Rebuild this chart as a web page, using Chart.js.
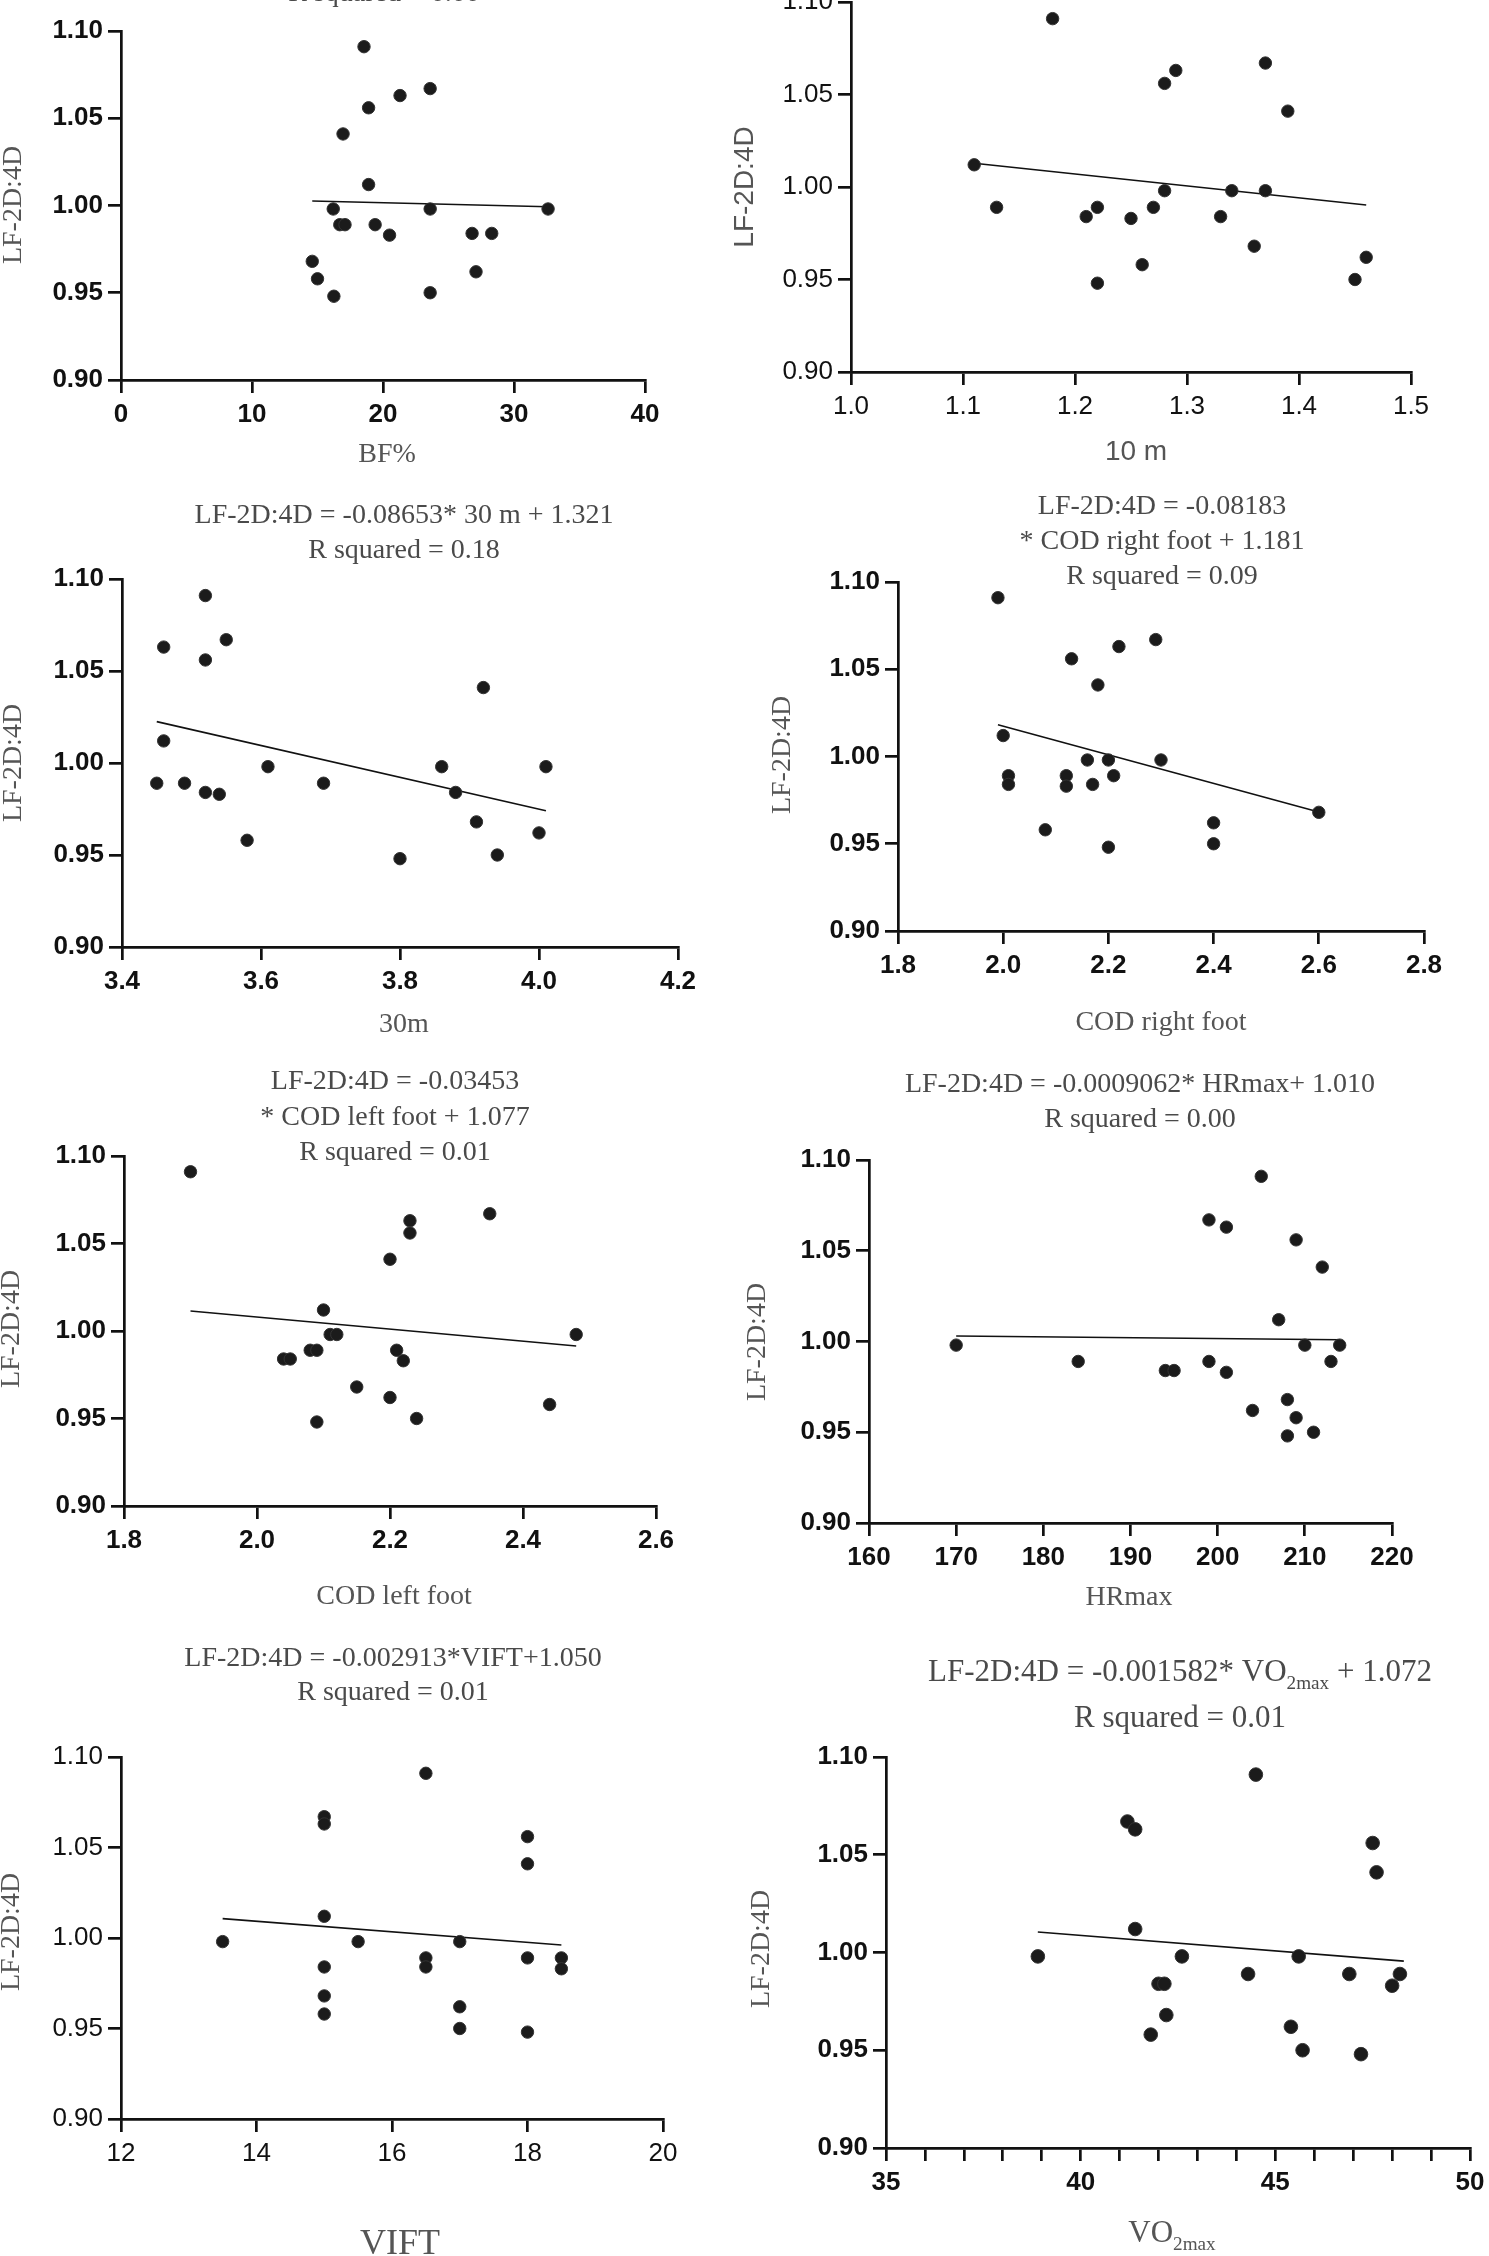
<!DOCTYPE html>
<html>
<head>
<meta charset="utf-8">
<script src="https://cdn.jsdelivr.net/npm/chart.js@4.4.1/dist/chart.umd.min.js"></script>
<style>
  html, body { margin: 0; padding: 0; background: #fff; }
  body { width: 1489px; height: 2256px; position: relative; overflow: hidden; }
</style>
</head>
<body>
<script>
// LF-2D:4D ratio, same 20 subjects in the same order for every panel
const ratio = [1.091, 1.067, 1.063, 1.056, 1.041, 1.012, 0.998, 0.998, 0.998, 0.989,
               0.989, 0.989, 0.984, 0.984, 0.983, 0.968, 0.962, 0.958, 0.950, 0.948];

// x values per panel
const bfPct    = [18.55, 23.6, 21.3, 18.9, 16.95, 18.9, 16.2, 23.6, 32.6, 16.7, 17.1, 19.4, 26.8, 28.3, 20.5, 14.6, 27.1, 15.0, 23.6, 16.25];
const tenM     = [1.18, 1.37, 1.29, 1.28, 1.39, 1.11, 1.28, 1.34, 1.37, 1.13, 1.22, 1.27, 1.21, 1.33, 1.25, 1.36, 1.46, 1.26, 1.45, 1.22];
const thirtyM  = [3.52, 3.55, 3.46, 3.52, 3.92, 3.46, 3.61, 3.86, 4.01, 3.45, 3.49, 3.69, 3.52, 3.88, 3.54, 3.91, 4.00, 3.58, 3.94, 3.80];
const codRight = [1.99, 2.29, 2.22, 2.13, 2.18, 2.00, 2.16, 2.20, 2.30, 2.01, 2.12, 2.21, 2.01, 2.17, 2.12, 2.60, 2.40, 2.08, 2.40, 2.20];
const codLeft  = [1.90, 2.35, 2.23, 2.23, 2.20, 2.10, 2.11, 2.12, 2.48, 2.08, 2.09, 2.21, 2.04, 2.05, 2.22, 2.15, 2.20, 2.44, 2.24, 2.09];
const hrMax    = [205, 199, 201, 209, 212, 207, 170, 210, 214, 184, 199, 213, 194, 195, 201, 208, 204, 209, 211, 208];
const vift     = [16.5, 15, 15, 18, 18, 15, 13.5, 15.5, 17, 16.5, 18, 18.5, 15, 16.5, 18.5, 15, 17, 15, 17, 18];
const vo2max   = [44.5, 41.2, 41.4, 47.5, 47.6, 41.4, 38.9, 42.6, 45.6, 44.3, 46.9, 48.2, 42.0, 42.15, 48.0, 42.2, 45.4, 41.8, 45.7, 47.2];

// regression line end points
const bfFit    = [[14.6, 1.0026], [32.6, 0.9993]];
const tenFit   = [[1.11, 1.0128], [1.46, 0.9903]];
const thirtyFit= [[3.45, 1.0225], [4.01, 0.9740]];
const codRFit  = [[1.99, 1.0182], [2.60, 0.9682]];
const codLFit  = [[1.90, 1.0114], [2.48, 0.9914]];
const hrFit    = [[170, 1.0030], [214, 1.0010]];
const viftFit  = [[13.5, 1.0107], [18.5, 0.9961]];
const vo2Fit   = [[38.9, 1.0105], [48.3, 0.9956]];

// tick values
const ratioTicks  = [0.90, 0.95, 1.00, 1.05, 1.10];
const bfTicks     = [0, 10, 20, 30, 40];
const tenTicks    = [1.0, 1.1, 1.2, 1.3, 1.4, 1.5];
const thirtyTicks = [3.4, 3.6, 3.8, 4.0, 4.2];
const codRTicks   = [1.8, 2.0, 2.2, 2.4, 2.6, 2.8];
const codLTicks   = [1.8, 2.0, 2.2, 2.4, 2.6];
const hrTicks     = [160, 170, 180, 190, 200, 210, 220];
const viftTicks   = [12, 14, 16, 18, 20];
const vo2Ticks    = [35, 36, 37, 38, 39, 40, 41, 42, 43, 44, 45, 46, 47, 48, 49, 50];

const SERIF = "'Liberation Serif', 'Times New Roman', serif";
const SANS = "'Liberation Sans', Arial, sans-serif";
const PADL = 150, PADT = 150, PADR = 45, PADB = 140;

// draws titles / axis titles, subscripts allowed
const textPlugin = {
  id: 'panelText',
  afterDraw(chart, args, opts) {
    const ctx = chart.ctx;
    for (const t of opts.items) {
      const size = t.size || 28;
      const fam = t.family || SERIF;
      ctx.save();
      ctx.translate(t.x - opts.ox, t.y - opts.oy);
      if (t.rot) ctx.rotate(-Math.PI / 2);
      ctx.fillStyle = t.color || '#4a4a4a';
      ctx.textBaseline = 'middle';
      ctx.textAlign = 'left';
      const segs = t.segs.map(s => ({ text: s[0], sub: !!s[1] }));
      let total = 0;
      for (const s of segs) {
        ctx.font = (s.sub ? size * 0.62 : size) + 'px ' + fam;
        s.w = ctx.measureText(s.text).width;
        total += s.w;
      }
      let x = -total / 2;
      for (const s of segs) {
        ctx.font = (s.sub ? size * 0.62 : size) + 'px ' + fam;
        ctx.fillText(s.text, x, s.sub ? size * 0.36 : 0);
        x += s.w;
      }
      ctx.restore();
    }
  }
};

function makePanel(p) {
  const [L, T, R, B] = p.area;
  const W = R - L + PADL + PADR, H = B - T + PADT + PADB;
  const ox = L - PADL, oy = T - PADT;
  const cv = document.createElement('canvas');
  cv.width = W; cv.height = H;
  cv.style.cssText = 'position:absolute;left:' + ox + 'px;top:' + oy + 'px;width:' + W + 'px;height:' + H + 'px';
  document.body.appendChild(cv);
  const tickFont = { family: SANS, size: 26, weight: p.bold ? 'bold' : 'normal' };
  const axisLine = { color: '#111', width: 2.7 };
  new Chart(cv, {
    type: 'scatter',
    data: {
      datasets: [
        { data: p.xs.map((v, i) => ({ x: v, y: ratio[i] })), pointRadius: p.r || 6.2,
          backgroundColor: '#1b1b1b', borderColor: '#333', borderWidth: 1, clip: false },
        { data: p.fit.map(([x, y]) => ({ x, y })), showLine: true, pointRadius: 0,
          borderColor: '#111', borderWidth: 1.6, clip: false }
      ]
    },
    options: {
      responsive: false, animation: false, events: [],
      layout: { padding: { left: 0, top: PADT, right: PADR, bottom: 0 } },
      plugins: {
        legend: { display: false }, tooltip: { enabled: false },
        panelText: { items: p.texts, ox, oy }
      },
      scales: {
        x: {
          type: 'linear', min: p.xTicks[0], max: p.xTicks[p.xTicks.length - 1],
          afterBuildTicks: s => { s.ticks = p.xTicks.map(v => ({ value: v })); },
          afterFit: s => { s.height = PADB; },
          ticks: { font: tickFont, color: '#111', padding: 6, autoSkip: false, maxRotation: 0, callback: p.fmt },
          grid: { drawOnChartArea: false, tickLength: 13, color: '#111', lineWidth: 2.7 },
          border: axisLine
        },
        y: {
          type: 'linear', min: 0.9, max: 1.1,
          afterBuildTicks: s => { s.ticks = ratioTicks.map(v => ({ value: v })); },
          afterFit: s => { s.width = PADL; },
          ticks: { font: tickFont, color: '#111', padding: 5, callback: v => v.toFixed(2) },
          grid: { drawOnChartArea: false, tickLength: 13, color: '#111', lineWidth: 2.7 },
          border: axisLine
        }
      }
    },
    plugins: [textPlugin]
  });
}

const yTitle = (x, y, family) => ({ segs: [['LF-2D:4D']], x, y, rot: true, family, color: '#555' });

makePanel({
  xs: bfPct, fit: bfFit, xTicks: bfTicks, fmt: v => String(v), bold: true,
  area: [121, 31, 645, 380],
  texts: [
    { segs: [['R squared = 0.00']], x: 384, y: -6 },
    yTitle(14, 205),
    { segs: [['BF%']], x: 387, y: 455, color: '#555' }
  ]
});

makePanel({
  xs: tenM, fit: tenFit, xTicks: tenTicks, fmt: v => v.toFixed(1), bold: false,
  area: [851, 2, 1411, 372],
  texts: [
    yTitle(745, 187, SANS),
    { segs: [['10 m']], x: 1136, y: 452, family: SANS, color: '#555' }
  ]
});

makePanel({
  xs: thirtyM, fit: thirtyFit, xTicks: thirtyTicks, fmt: v => v.toFixed(1), bold: true,
  area: [122, 579, 678, 947],
  texts: [
    { segs: [['LF-2D:4D = -0.08653* 30 m + 1.321']], x: 404, y: 516 },
    { segs: [['R squared = 0.18']], x: 404, y: 551 },
    yTitle(14, 763),
    { segs: [['30m']], x: 404, y: 1025, color: '#555' }
  ]
});

makePanel({
  xs: codRight, fit: codRFit, xTicks: codRTicks, fmt: v => v.toFixed(1), bold: true,
  area: [898, 582, 1424, 931],
  texts: [
    { segs: [['LF-2D:4D = -0.08183']], x: 1162, y: 507 },
    { segs: [['* COD right foot + 1.181']], x: 1162, y: 542 },
    { segs: [['R squared = 0.09']], x: 1162, y: 577 },
    yTitle(783, 755),
    { segs: [['COD right foot']], x: 1161, y: 1023, color: '#555' }
  ]
});

makePanel({
  xs: codLeft, fit: codLFit, xTicks: codLTicks, fmt: v => v.toFixed(1), bold: true,
  area: [124, 1156, 656, 1506],
  texts: [
    { segs: [['LF-2D:4D = -0.03453']], x: 395, y: 1082 },
    { segs: [['* COD left foot + 1.077']], x: 395, y: 1118 },
    { segs: [['R squared = 0.01']], x: 395, y: 1153 },
    yTitle(12, 1329),
    { segs: [['COD left foot']], x: 394, y: 1597, color: '#555' }
  ]
});

makePanel({
  xs: hrMax, fit: hrFit, xTicks: hrTicks, fmt: v => String(v), bold: true,
  area: [869, 1160, 1392, 1523],
  texts: [
    { segs: [['LF-2D:4D = -0.0009062* HRmax+ 1.010']], x: 1140, y: 1085 },
    { segs: [['R squared = 0.00']], x: 1140, y: 1120 },
    yTitle(758, 1342),
    { segs: [['HRmax']], x: 1129, y: 1598, color: '#555' }
  ]
});

makePanel({
  xs: vift, fit: viftFit, xTicks: viftTicks, fmt: v => String(v), bold: false,
  area: [121, 1757, 663, 2119],
  texts: [
    { segs: [['LF-2D:4D = -0.002913*VIFT+1.050']], x: 393, y: 1659 },
    { segs: [['R squared = 0.01']], x: 393, y: 1693 },
    yTitle(12, 1932),
    { segs: [['VIFT']], x: 400, y: 2245, size: 36, color: '#555' }
  ]
});

makePanel({
  xs: vo2max, fit: vo2Fit, xTicks: vo2Ticks, fmt: v => (v % 5 === 0 ? String(v) : ''), bold: true, r: 6.8,
  area: [886, 1757, 1470, 2148],
  texts: [
    { segs: [['LF-2D:4D = -0.001582* VO'], ['2max', true], [' + 1.072']], x: 1180, y: 1673, size: 31 },
    { segs: [['R squared = 0.01']], x: 1180, y: 1719, size: 31 },
    yTitle(762, 1949),
    { segs: [['VO'], ['2max', true]], x: 1172, y: 2234, size: 31, color: '#555' }
  ]
});
</script>
</body>
</html>
